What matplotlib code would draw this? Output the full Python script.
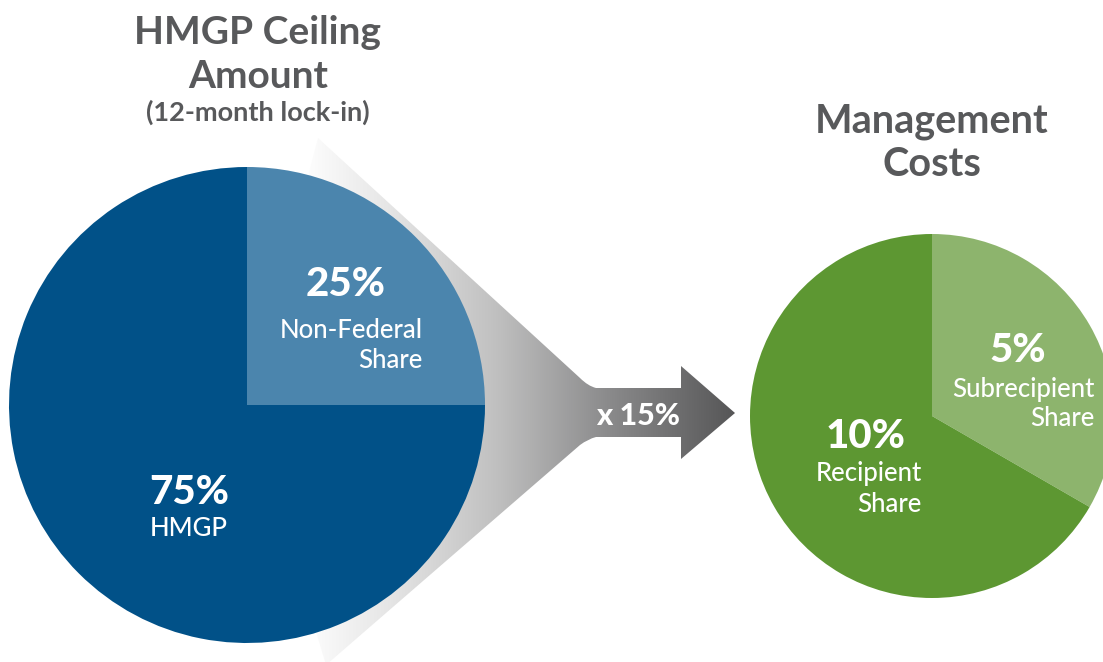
import matplotlib
matplotlib.use("Agg")
import matplotlib.pyplot as plt
import numpy as np
from matplotlib.path import Path
from matplotlib.patches import PathPatch
from matplotlib.colors import LinearSegmentedColormap

# Data
ceiling_labels = ["Non-Federal\nShare", "HMGP"]
ceiling_values = [25, 75]
ceiling_colors = ["#4b85ad", "#015188"]
mgmt_labels = ["Subrecipient\nShare", "Recipient\nShare"]
mgmt_values = [5, 10]
mgmt_colors = ["#8db46d", "#5d9732"]
multiplier_text = "x 15%"

W, H = 1103, 662
fig = plt.figure(figsize=(W / 100, H / 100), dpi=100)
ax = fig.add_axes([0, 0, 1, 1])
ax.set_xlim(0, W)
ax.set_ylim(0, H)
ax.axis("off")

def Y(y):
    return H - y

FONT = ["Lato", "DejaVu Sans"]
GRAY = "#58595b"

# funnel + arrow with gradient
verts = [
    (248, Y(405)),
    (318, Y(138)),
    (580, Y(378)),
    (588, Y(386)), (596, Y(388)),
    (681, Y(388)),
    (681, Y(366)),
    (735, Y(413)),
    (681, Y(459)),
    (681, Y(437)),
    (596, Y(437)),
    (588, Y(439)), (580, Y(445)),
    (326, Y(665)),
    (248, Y(405)),
]
codes = [Path.MOVETO, Path.LINETO, Path.LINETO, Path.CURVE3, Path.CURVE3,
         Path.LINETO, Path.LINETO, Path.LINETO, Path.LINETO, Path.LINETO,
         Path.LINETO, Path.CURVE3, Path.CURVE3, Path.LINETO, Path.CLOSEPOLY]
patch = PathPatch(Path(verts, codes), facecolor="none", edgecolor="none")
ax.add_patch(patch)
cmap = LinearSegmentedColormap.from_list(
    "g", [(0, "#ffffff"), (0.2, "#e6e6e6"), (0.45, "#c0c0c0"),
          (0.7, "#8c8c8d"), (1.0, "#565657")])
grad = np.linspace(0, 1, 512).reshape(1, -1)
im = ax.imshow(grad, cmap=cmap, extent=(300, 736, 0, H), aspect="auto",
               zorder=1, interpolation="bicubic")
im.set_clip_path(patch)
ax.set_xlim(0, W)
ax.set_ylim(0, H)

# pies
ax.pie(ceiling_values, colors=ceiling_colors, startangle=90, counterclock=False,
       center=(247, Y(405)), radius=238, frame=True,
       wedgeprops=dict(linewidth=0, zorder=2))
ax.pie(mgmt_values, colors=mgmt_colors, startangle=90, counterclock=False,
       center=(932, Y(416)), radius=182, frame=True,
       wedgeprops=dict(linewidth=0, zorder=2))
ax.set_xlim(0, W)
ax.set_ylim(0, H)
ax.set_aspect("auto")
ax.axis("off")

# titles
tkw = dict(ha="center", va="center", color=GRAY, family=FONT, fontweight="bold")
ax.text(258, Y(32), "HMGP Ceiling", fontsize=28, **tkw)
ax.text(258, Y(76), "Amount", fontsize=28, **tkw)
ax.text(258, Y(112), "(12-month lock-in)", fontsize=19.5, **tkw)
ax.text(932, Y(122), "Management", fontsize=28.5, **tkw)
ax.text(932, Y(165), "Costs", fontsize=28.5, **tkw)

big = dict(color="white", family=FONT, fontweight="black", fontsize=29,
           va="center", zorder=5)
small = dict(color="white", family=FONT, fontsize=18.5, va="center",
             zorder=5, linespacing=1.25, fontweight="medium")

ax.text(346, Y(285), f"{ceiling_values[0]}%", ha="center", **big)
ax.text(423, Y(345), ceiling_labels[0], ha="right", multialignment="right", **small)
ax.text(189, Y(492), f"{ceiling_values[1]}%", ha="center", **big)
ax.text(189, Y(529), ceiling_labels[1], ha="center", **small)

ax.text(1018, Y(350), f"{mgmt_values[0]}%", ha="center", **big)
ax.text(1095, Y(404), mgmt_labels[0], ha="right", multialignment="right", **small)
ax.text(866, Y(437), f"{mgmt_values[1]}%", ha="center", **big)
ax.text(922, Y(489), mgmt_labels[1], ha="right", multialignment="right", **small)

ax.text(638, Y(416), multiplier_text, ha="center", va="center", color="white",
        family=FONT, fontweight="black", fontsize=22, zorder=5)

fig.savefig("out.png", dpi=100, facecolor="white")
